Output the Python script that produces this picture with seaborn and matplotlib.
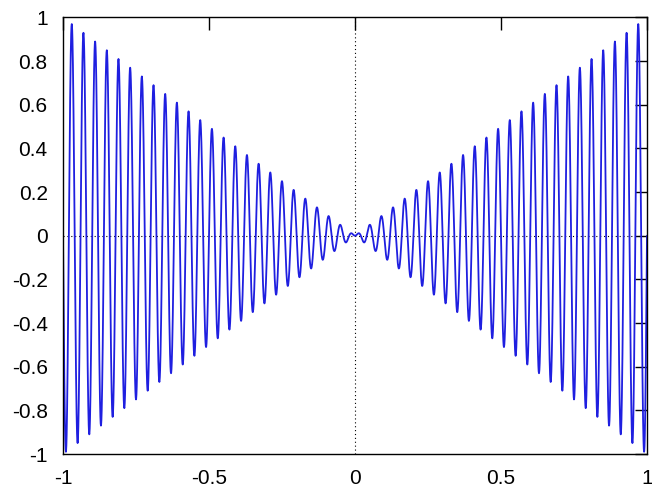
import numpy as np
import pandas as pd
import matplotlib
matplotlib.use("Agg")
import matplotlib.pyplot as plt
import seaborn as sns

# plotted function: y = x * sin(freq * x), gnuplot-style
x_min, x_max = -1.0, 1.0
freq = 50 * np.pi
n_samples = 4001
x_ticks = [-1, -0.5, 0, 0.5, 1]
x_tick_labels = ["-1", "-0.5", "0", "0.5", "1"]
y_ticks = [-1, -0.8, -0.6, -0.4, -0.2, 0, 0.2, 0.4, 0.6, 0.8, 1]
y_tick_labels = ["-1", "-0.8", "-0.6", "-0.4", "-0.2", "0", "0.2", "0.4", "0.6", "0.8", "1"]

xs = np.linspace(x_min, x_max, n_samples)
df = pd.DataFrame({"x": xs, "y": xs * np.sin(freq * xs)})

sns.set_style("white")
plt.rcParams["font.family"] = ["Liberation Sans", "DejaVu Sans"]

fig = plt.figure(figsize=(6.52, 4.94), dpi=100)
ax = fig.add_axes([63 / 652, 1 - 454 / 494, (647 - 63) / 652, (454 - 17.5) / 494])

# zero axes (dotted)
ax.axhline(0, color="black", lw=0.8, ls=(0, (1, 2.5)), zorder=1)
ax.axvline(0, color="black", lw=0.8, ls=(0, (1, 2.5)), zorder=1)

sns.lineplot(data=df, x="x", y="y", ax=ax, color="#1f1fe0", lw=1.3,
             estimator=None, sort=False, zorder=2)

ax.set_xlim(x_min, x_max)
ax.set_ylim(-1, 1)
ax.set_xticks(x_ticks)
ax.set_xticklabels(x_tick_labels)
ax.set_yticks(y_ticks)
ax.set_yticklabels(y_tick_labels)
ax.set_xlabel("")
ax.set_ylabel("")

ax.tick_params(axis="both", direction="in", length=9, width=1, color="black",
               labelsize=15, top=True, right=True, labelcolor="black")
ax.tick_params(axis="x", pad=11)
ax.tick_params(axis="y", pad=11)
for s in ax.spines.values():
    s.set_visible(True)
    s.set_color("black")
    s.set_linewidth(1)

fig.savefig("out.png", dpi=100)
